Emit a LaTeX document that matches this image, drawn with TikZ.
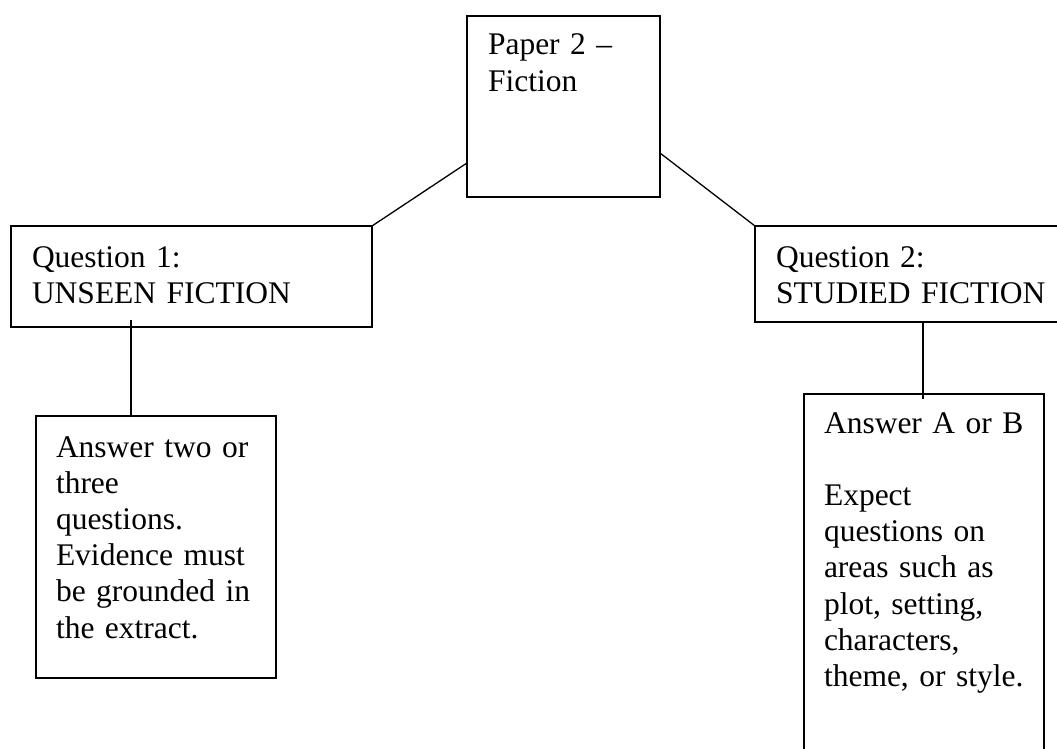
\documentclass[tikz,border=0pt]{standalone}
\usepackage{fontspec}
\setmainfont{Liberation Serif}
\usetikzlibrary{calc}
\begin{document}
\begin{tikzpicture}[x=1pt,y=-1pt,
  box/.style={draw, line width=1.3pt, inner sep=0pt, outer sep=0pt, anchor=north west},
  txt/.style={inner sep=0pt, outer sep=0pt, anchor=base west, align=left, text width=#1,
    font=\fontsize{31.5pt}{36.2pt}\selectfont},
  link/.style={line width=1.3pt}]
\useasboundingbox (0,0) rectangle (1057,749);
% boxes
\node[box, minimum width=193pt, minimum height=181pt] (top) at (467,16) {};
\node[box, minimum width=361pt, minimum height=101pt] (q1) at (11,226) {};
\node[box, minimum width=305pt, minimum height=96pt] (q2) at (755,226) {};
\node[box, minimum width=240pt, minimum height=262pt] (a1) at (36,416) {};
\node[box, minimum width=240pt, minimum height=370pt] (a2) at (804,394) {};
% texts
\node[txt=170pt] (ttop) at (488,55) {Paper 2 –\\Fiction};
\node[txt=340pt] (tq1) at (32,267) {Question 1:\\UNSEEN FICTION};
\node[txt=290pt] (tq2) at (776,267) {Question 2:\\STUDIED FICTION};
\node[txt=220pt] (ta1) at (56,457) {Answer two or\\three\\questions.\\Evidence must\\be grounded in\\the extract.};
\node[txt=220pt] (ta2) at (824,433) {Answer A or B\\[36.2pt]Expect\\questions on\\areas such as\\plot, setting,\\characters,\\theme, or style.};
% connectors
\coordinate (tl) at ($(top.north west)!0.812!(top.south west)$);
\coordinate (tr) at ($(top.north east)!0.757!(top.south east)$);
\draw[link] (tl) -- (q1.north east);
\draw[link] (tr) -- (q2.north west);
\coordinate (q1b) at ($(q1.south west)!0.332!(q1.south east)$);
\draw[link] ($(q1b)+(0,-7)$) -- (q1b |- a1.north);
\coordinate (q2b) at ($(q2.south west)!0.551!(q2.south east)$);
\draw[link] (q2b) -- ($(q2b |- a2.north)+(0,5)$);
\end{tikzpicture}
\end{document}
